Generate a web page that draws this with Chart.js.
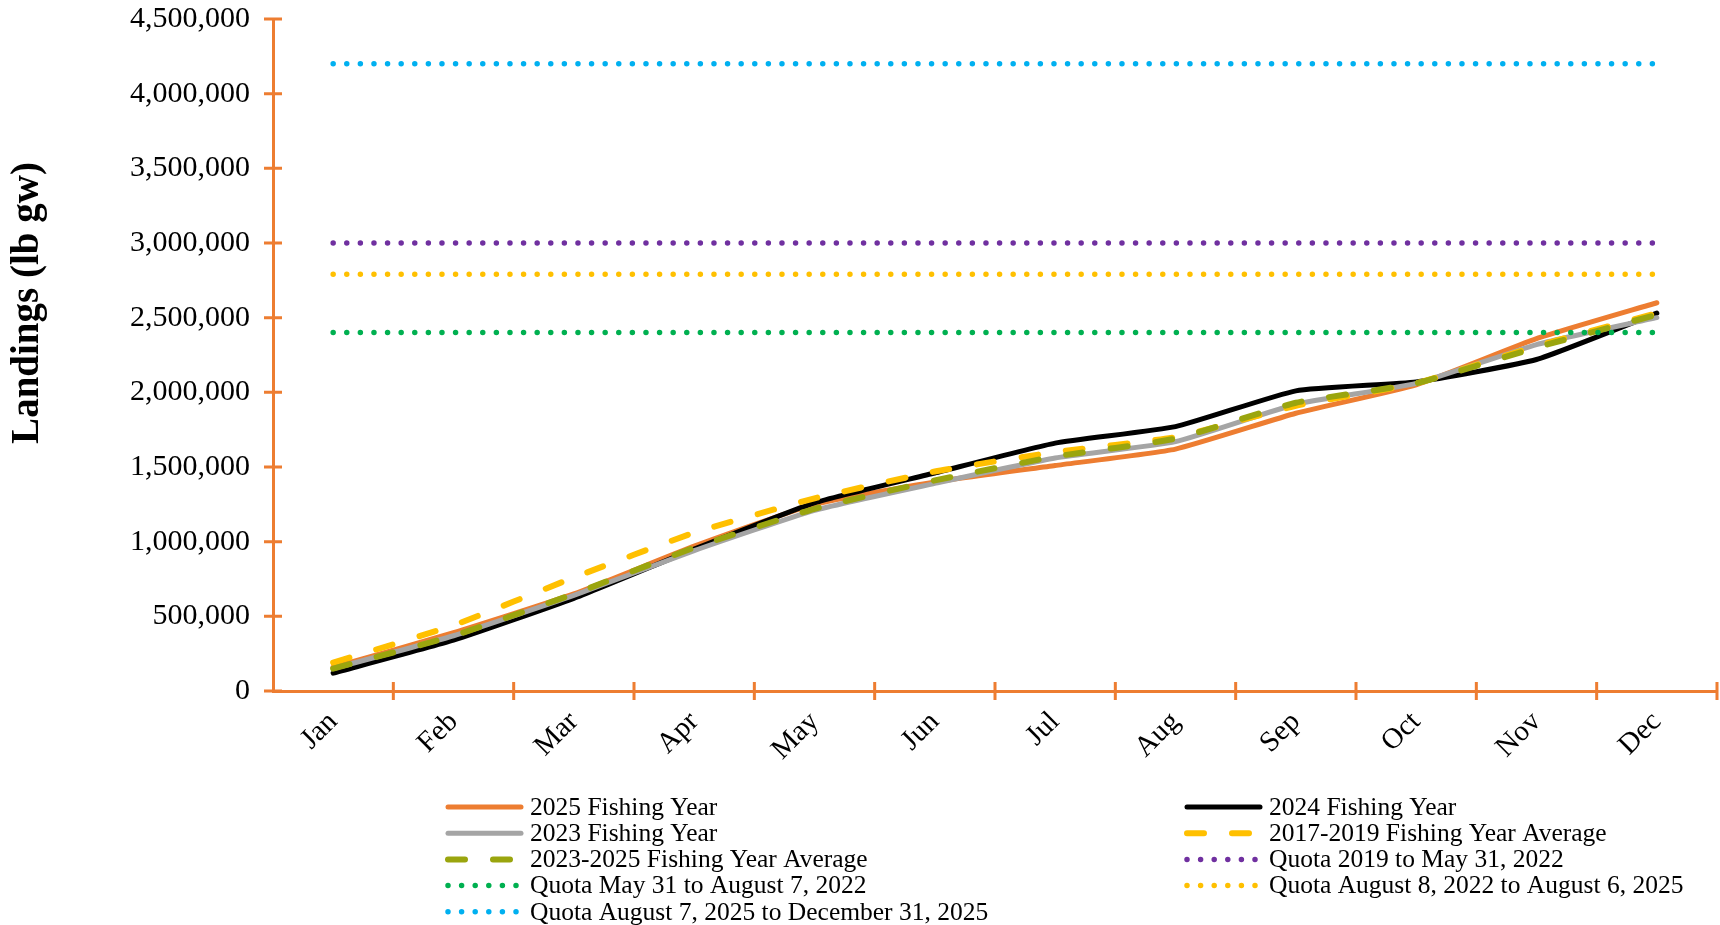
<!DOCTYPE html>
<html lang="en">
<head>
    <meta charset="UTF-8">
    <title>Landings (lb gw)</title>
    <script src="https://cdn.jsdelivr.net/npm/chart.js"></script>
    <style>
        body { margin: 0; background: #fff; }
        #wrap { width: 1720px; height: 925px; position: relative; }
    </style>
</head>
<body>
<div id="wrap"><canvas id="landingsChart"></canvas></div>

<script>
    // values (lb gw, cumulative)
    var months = ['Jan', 'Feb', 'Mar', 'Apr', 'May', 'Jun', 'Jul', 'Aug', 'Sep', 'Oct', 'Nov', 'Dec'];
    var fy2025 = [160000, 390000, 650000, 970000, 1250000, 1400000, 1510000, 1620000, 1860000, 2050000, 2360000, 2600000];
    var fy2024 = [120000, 340000, 620000, 950000, 1260000, 1460000, 1660000, 1770000, 2010000, 2070000, 2220000, 2530000];
    var fy2023 = [150000, 370000, 640000, 940000, 1210000, 1390000, 1560000, 1670000, 1920000, 2060000, 2320000, 2500000];
    var avg2017to2019 = [190000, 440000, 760000, 1060000, 1290000, 1470000, 1600000, 1700000, 1910000, 2060000, 2310000, 2530000];
    var avg2023to2025 = [150000, 370000, 650000, 960000, 1220000, 1410000, 1570000, 1690000, 1930000, 2060000, 2300000, 2520000];

    var quotaLabels = ['Quota 2019 to May 31, 2022', 'Quota May 31 to August 7, 2022',
        'Quota August 8, 2022 to August 6, 2025', 'Quota August 7, 2025 to December 31, 2025'];
    var quotaValues = [3000000, 2400000, 2790000, 4200000];
    var quotaColors = ['#7030A0', '#00B050', '#FFC000', '#00B0F0'];

    var yTicks = { min: 0, max: 4500000, step: 500000 };

    var axisColor = '#ED7D31';
    var serif = '"Liberation Serif", "Times New Roman", serif';

    function lineSet(label, data, color, dash) {
        return {
            label: label,
            data: data,
            borderColor: color,
            backgroundColor: color,
            borderWidth: dash ? 6 : 5,
            borderDash: dash || [],
            borderCapStyle: 'round',
            borderJoinStyle: 'round',
            pointRadius: 0,
            tension: 0.15,
            fill: false
        };
    }

    var datasets = [
        lineSet('2025 Fishing Year', fy2025, '#ED7D31'),
        lineSet('2024 Fishing Year', fy2024, '#000000'),
        lineSet('2023 Fishing Year', fy2023, '#A5A5A5'),
        lineSet('2017-2019 Fishing Year Average', avg2017to2019, '#FFC000', [17, 28]),
        lineSet('2023-2025 Fishing Year Average', avg2023to2025, '#9AA50E', [17, 28])
    ];
    quotaLabels.forEach(function (lbl, i) {
        var ds = lineSet(lbl, months.map(function () { return quotaValues[i]; }), quotaColors[i], [0, 13.6]);
        ds.borderWidth = 5.5;
        ds.tension = 0;
        datasets.push(ds);
    });
    // later series sit on top, like the original spreadsheet chart
    datasets.forEach(function (ds, i) { ds.order = datasets.length - i; });

    // tick marks that cross the axes, the rotated y title and the two-column legend
    var decorations = {
        id: 'decorations',
        afterDraw: function (chart) {
            var ctx = chart.ctx;
            var area = chart.chartArea;
            var ys = chart.scales.y;

            ctx.save();
            ctx.strokeStyle = axisColor;
            ctx.lineWidth = 3;
            ctx.beginPath();
            ys.ticks.forEach(function (t) {
                var py = ys.getPixelForValue(t.value);
                ctx.moveTo(area.left - 9, py);
                ctx.lineTo(area.left + 9, py);
            });
            var step = (area.right - area.left) / months.length;
            for (var i = 1; i <= months.length; i++) {
                var px = area.left + i * step;
                ctx.moveTo(px, area.bottom - 9);
                ctx.lineTo(px, area.bottom + 9);
            }
            ctx.stroke();
            ctx.restore();

            // y axis title
            ctx.save();
            ctx.translate(28, 303);
            ctx.rotate(-Math.PI / 2);
            ctx.font = 'bold 39px ' + serif;
            ctx.fillStyle = '#000';
            ctx.textAlign = 'center';
            ctx.textBaseline = 'middle';
            ctx.fillText('Landings (lb gw)', 0, 0);
            ctx.restore();

            // legend
            var colX = [448, 1187];
            var sampleLen = 73;
            chart.data.datasets.forEach(function (ds, i) {
                var x = colX[i % 2];
                var y = 807 + Math.floor(i / 2) * 26.2;
                ctx.save();
                ctx.strokeStyle = ds.borderColor;
                ctx.lineWidth = ds.borderWidth;
                ctx.lineCap = 'round';
                ctx.setLineDash(ds.borderDash);
                ctx.beginPath();
                ctx.moveTo(x, y);
                ctx.lineTo(x + sampleLen, y);
                ctx.stroke();
                ctx.setLineDash([]);
                ctx.font = '25.5px ' + serif;
                ctx.fillStyle = '#000';
                ctx.textAlign = 'left';
                ctx.textBaseline = 'middle';
                ctx.fillText(ds.label, x + sampleLen + 9, y + 1);
                ctx.restore();
            });
        }
    };

    new Chart(document.getElementById('landingsChart').getContext('2d'), {
        type: 'line',
        data: { labels: months, datasets: datasets },
        options: {
            responsive: true,
            maintainAspectRatio: false,
            animation: false,
            layout: { padding: { left: 0, right: 3, top: 19, bottom: 0 } },
            plugins: {
                legend: { display: false },
                tooltip: { enabled: false }
            },
            scales: {
                x: {
                    offset: true,
                    grid: { display: false },
                    border: { display: true, color: axisColor, width: 3 },
                    ticks: {
                        color: '#000',
                        font: { family: serif, size: 29 },
                        minRotation: 45,
                        maxRotation: 45,
                        padding: 6
                    },
                    afterFit: function (scale) {
                        scale.height = 234;
                        scale.paddingLeft = 0;
                        scale.paddingRight = 0;
                    }
                },
                y: {
                    min: yTicks.min,
                    max: yTicks.max,
                    grid: { display: false },
                    border: { display: true, color: axisColor, width: 3 },
                    ticks: {
                        stepSize: yTicks.step,
                        color: '#000',
                        font: { family: serif, size: 30 },
                        padding: 15,
                        callback: function (v) { return v.toLocaleString('en-US'); }
                    },
                    afterFit: function (scale) {
                        scale.width = 273;
                        scale.paddingTop = 0;
                        scale.paddingBottom = 0;
                    }
                }
            }
        },
        plugins: [decorations]
    });
</script>
</body>
</html>
